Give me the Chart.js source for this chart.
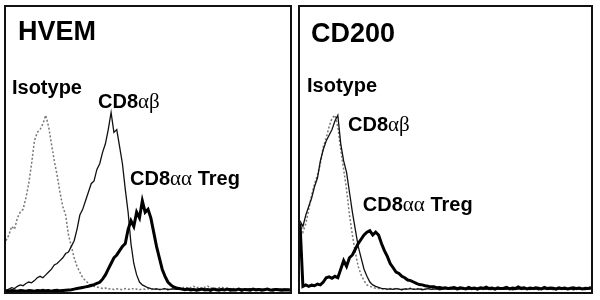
<!DOCTYPE html>
<html>
<head>
<meta charset="utf-8">
<script src="https://cdn.jsdelivr.net/npm/chart.js@4"></script>
<style>
  body { margin: 0; background: #fff; width: 600px; height: 300px; overflow: hidden; }
  .panel { position: absolute; top: 5px; height: 285px; border: 2px solid #111; }
  #p1 { left: 4px; width: 284px; }
  #p2 { left: 298px; width: 291px; }
  canvas { display: block; }
</style>
</head>
<body>
<div class="panel" id="p1"><canvas id="hvem" width="284" height="285"></canvas></div>
<div class="panel" id="p2"><canvas id="cd200" width="291" height="285"></canvas></div>
<script>
// fluorescence channel bins (0..100, log scale shown as linear)
var bins = [0,1,2,3,4,5,6,7,8,9,10,11,12,13,14,15,16,17,18,19,20,21,22,23,24,25,26,27,28,29,
  30,31,32,33,34,35,36,37,38,39,40,41,42,43,44,45,46,47,48,49,50,51,52,53,54,55,56,57,58,59,
  60,61,62,63,64,65,66,67,68,69,70,71,72,73,74,75,76,77,78,79,80,81,82,83,84,85,86,87,88,89,
  90,91,92,93,94,95,96,97,98,99,100];

// HVEM panel (cell counts, % of max)
var hvemIsotype = [18,20,23,22,26,28,29,33,38,45,
  53,56,57,59,62,58,52,46,41,35,
  30,27,20,16,12,9,7,5,4,3,
  2.5,2,1.8,1.5,1.2,1.4,1,1.2,0.9,1.1,
  1,0.8,1.2,1,0.9,1.3,1,0.8,1.1,1,
  1.2,0.9,1,1.1,0.8,1,1.2,1,0.9,1.3,
  1,1.1,1.4,1.8,1.2,1.6,2,1.4,1.8,1.2,
  1.7,2.1,1.3,1.6,1.2,1.5,1.8,1.1,1.4,1,
  1.2,0.9,1.3,1,1.1,0.8,1.2,1,0.9,1,
  1.1,0.8,1,1.2,0.9,1,0.8,1.1,1,0.9,1];
var hvemAB = [0.5,1,1.5,1.2,2,2.5,2.2,3,3.5,3.2,
  4,5,5.5,5,6,7,8,9.5,10,11,
  12,13.5,14,16,18,22,27,29,32,35,
  38,39,43,45,49,52,57,63,56,57,
  51,45,36,28,17,10,6,3.5,2.5,2,
  1.5,1.2,1,1.1,0.9,1,1.2,0.8,1,1.1,
  0.9,1,1.2,1,0.8,1.1,1,0.9,1.2,1,
  1.1,0.8,1,1.2,0.9,1,1.1,0.8,1,1.2,
  1,0.9,1.1,1,0.8,1,1.2,0.9,1,1.1,
  0.9,1,1.1,0.8,1,1.2,0.9,1,1.1,0.9,1];
var hvemTreg = [0.4,0.3,0.5,0.4,0.3,0.5,0.4,0.3,0.5,0.4,
  0.3,0.5,0.4,0.6,0.4,0.5,0.3,0.5,0.6,0.4,
  0.5,0.6,0.7,0.8,1,1.2,1.4,1.6,1.8,2,
  2.3,2.6,3,3.4,4.5,6,8,10,12,13,
  14.5,16,17,22,25,23,28,26,32,28,
  29,26,21,16,12,8,5.5,3.5,2.5,1.8,
  1.4,1.2,1,0.8,1,0.7,0.9,0.6,0.8,1,
  0.7,0.9,0.6,1,0.8,0.6,0.9,0.7,1,0.6,
  0.8,0.7,1,0.6,0.9,0.8,0.6,1,0.7,0.9,
  0.6,0.8,1,0.7,0.6,0.9,0.8,0.6,0.7,0.8,0.6];

// CD200 panel
var cd200Isotype = [24,21,24,29,34,38,41,45,51,54,
  58,61,62,58,50,43,36,27,20,14,
  9,6,4,2.5,2,1.6,1.3,1.2,1,1.1,
  0.9,1.2,1,1.3,1.1,0.9,1.2,1,1.4,1.1,
  1,1.3,1.1,0.9,1.2,1.5,1,1.3,1.1,1.6,
  1.2,1,1.4,1.1,0.9,1.3,1,1.2,0.9,1.1,
  1,1.3,1.1,0.9,1.2,1,0.8,1.1,1,1.2,
  0.9,1,1.1,0.8,1,1.2,0.9,1,1.1,0.9,
  1,0.8,1.1,1,0.9,1.2,1,0.8,1,1.1,
  0.9,1,1.1,0.8,1,0.9,1.1,1,0.8,1,0.9];
var cd200AB = [25,23,27,30,33,37,40,46,50,53,
  55,57,60,62,52,46,42,35,28,22,
  16,12,8,5.5,3.5,2.5,2,1.6,1.3,1.2,
  1,1.1,0.9,1.2,1,0.8,1.1,1,1.2,0.9,
  1,1.1,0.8,1,1.2,0.9,1,1.1,0.8,1,
  1.2,0.9,1,1.1,0.8,1,1.2,1,0.9,1.1,
  1,0.8,1.1,1,0.9,1.2,1,0.8,1,1.1,
  0.9,1,1.2,0.8,1,1.1,0.9,1,1.2,0.9,
  1,1.1,0.8,1,1.2,0.9,1,1.1,0.8,1,
  1.1,0.9,1,1.2,0.8,1,1.1,0.9,1,1.2,1];
var cd200Treg = [24,2,2.5,2,2.4,2.2,2.8,2.5,3.5,5,
  5.3,4.8,5.5,5,8,11,9,12,13,15,
  17,18.5,20,21,21.5,20,21,20,17,14.5,
  12.5,10,8.5,7,6.5,5.5,5,4.2,4,3.5,
  3,2.6,2.5,2.2,2,1.8,1.8,1.5,1.6,1.3,
  1.5,1.2,1.4,1.6,1.2,1.5,1.3,1.1,1.6,1.2,
  1.4,1.1,1.5,1.3,1.7,1.2,1.4,1.1,1.5,1.2,
  1.3,1.6,1.1,1.4,1.2,1.8,1.3,1.5,1.1,1.4,
  1.2,1.5,1.3,1.1,1.6,1.2,1.4,1.3,1.1,1.5,
  1.2,1.4,1.1,1.3,1.5,1.2,1.4,1.1,1.3,1.2,1.6];

var BOLD = '"Liberation Sans", Arial, Helvetica, sans-serif';
var GREEK = '"Liberation Serif", "Times New Roman", serif';

// text placed inside the plot, in data units; [text, isGreek]
var hvemNotes = [
  { x: 4.2, y: 88.4, size: 27, parts: [['HVEM', false]] },
  { x: 2.1, y: 69.5, size: 20, parts: [['Isotype', false]] },
  { x: 32.4, y: 64.6, size: 20, parts: [['CD8', false], ['\u03b1\u03b2', true]] },
  { x: 43.7, y: 37.5, size: 20, parts: [['CD8', false], ['\u03b1\u03b1', true], [' Treg', false]] }
];
var cd200Notes = [
  { x: 3.8, y: 87.7, size: 27, parts: [['CD200', false]] },
  { x: 2.4, y: 70.2, size: 20, parts: [['Isotype', false]] },
  { x: 16.5, y: 56.5, size: 20, parts: [['CD8', false], ['\u03b1\u03b2', true]] },
  { x: 21.6, y: 28.4, size: 20, parts: [['CD8', false], ['\u03b1\u03b1', true], [' Treg', false]] }
];

var notesPlugin = {
  id: 'notes',
  afterDatasetsDraw: function(chart, args, opts) {
    var c = chart.ctx;
    c.save();
    c.fillStyle = '#000';
    c.textBaseline = 'alphabetic';
    opts.items.forEach(function(n) {
      var px = chart.scales.x.getPixelForValue(n.x);
      var py = chart.scales.y.getPixelForValue(n.y);
      n.parts.forEach(function(p) {
        c.font = p[1] ? (n.size + 1) + 'px ' + GREEK : 'bold ' + n.size + 'px ' + BOLD;
        c.fillText(p[0], px, py);
        px += c.measureText(p[0]).width;
      });
    });
    c.restore();
  }
};

function histo(id, iso, ab, treg, notes) {
  return new Chart(document.getElementById(id), {
    type: 'line',
    data: {
      labels: bins,
      datasets: [{
          label: 'CD8\u03b1\u03b1 Treg',
          data: treg,
          borderColor: '#000',
          borderWidth: 3
        }, {
          label: 'CD8\u03b1\u03b2',
          data: ab,
          borderColor: '#111',
          borderWidth: 1.3
        }, {
          label: 'Isotype',
          data: iso,
          borderColor: '#777',
          borderWidth: 1.5,
          borderDash: [2, 2]
        }
      ]
    },
    options: {
      responsive: false,
      animation: false,
      layout: { padding: 0 },
      elements: { point: { radius: 0 }, line: { tension: 0 } },
      scales: {
        x: { type: 'linear', min: 0, max: 100, display: false },
        y: { min: 0, max: 100, display: false }
      },
      plugins: {
        legend: { display: false },
        tooltip: { enabled: false },
        notes: { items: notes }
      }
    },
    plugins: [notesPlugin]
  });
}

histo('hvem', hvemIsotype, hvemAB, hvemTreg, hvemNotes);
histo('cd200', cd200Isotype, cd200AB, cd200Treg, cd200Notes);
</script>
</body>
</html>
